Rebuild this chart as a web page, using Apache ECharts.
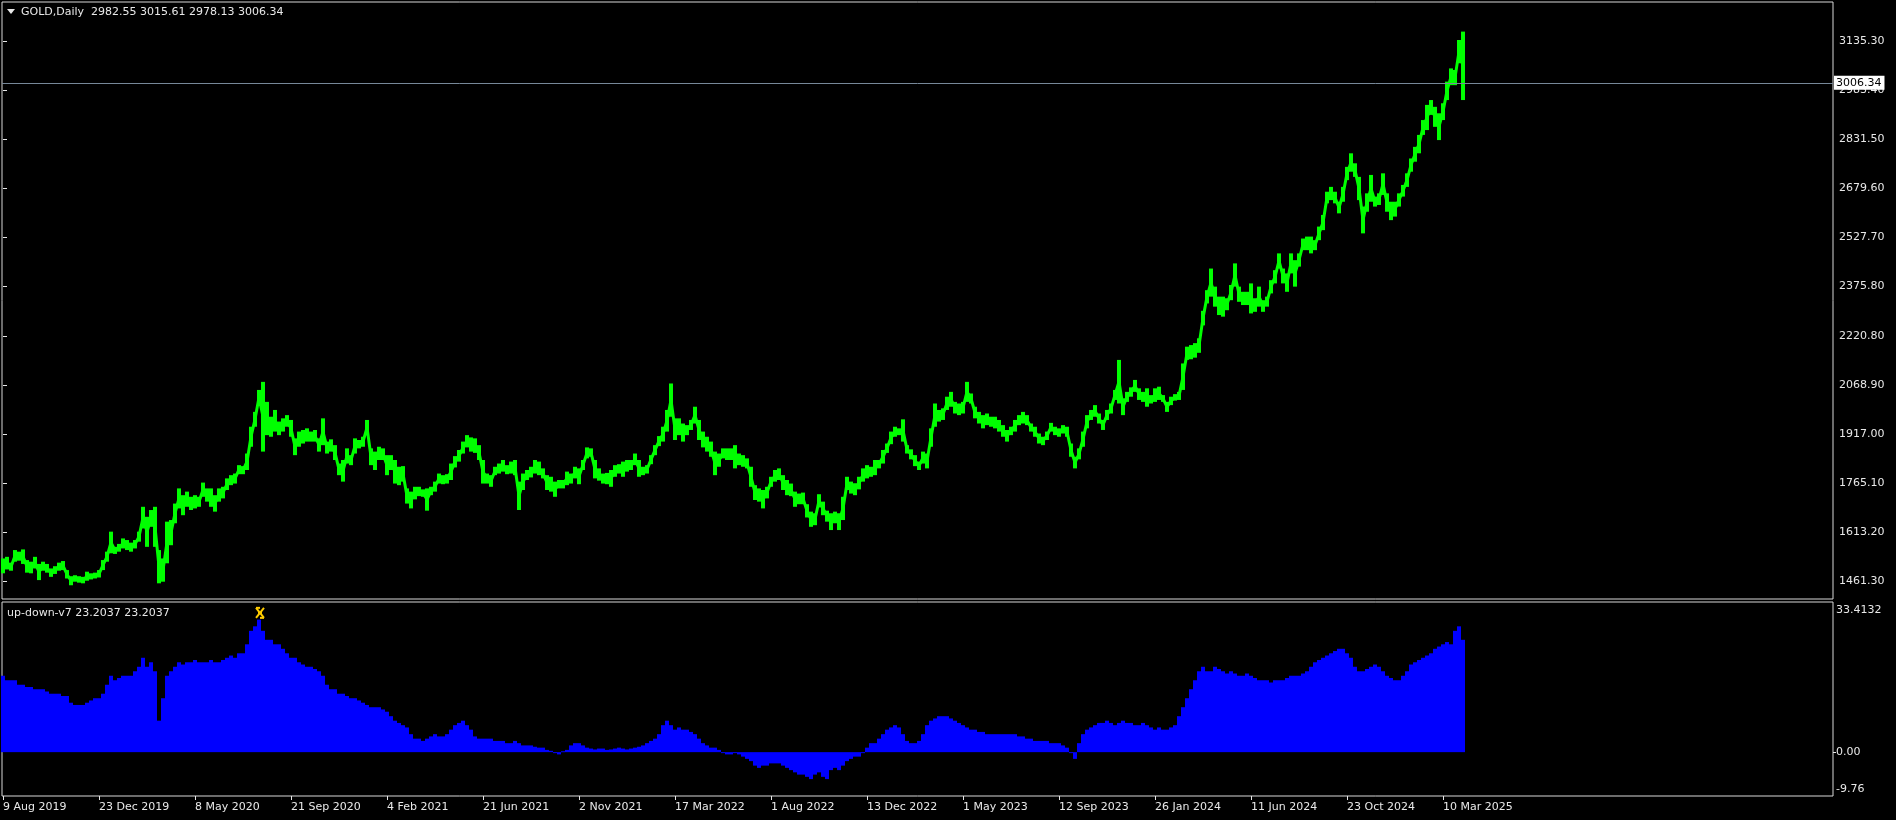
<!DOCTYPE html>
<html><head><meta charset="utf-8">
<script src="https://cdn.jsdelivr.net/npm/echarts@6/dist/echarts.min.js"></script>
<style>html,body{margin:0;padding:0;background:#000;overflow:hidden;}#c{width:1896px;height:820px;}</style>
</head><body><div id="c"></div>
<script>
// ---- data ----
const BAR_STEP = 4; // each sample covers 4 daily bars
const highs = [
1533,1538,1520,1559,1554,1561,1528,1523,1538,1516,1523,1516,1502,1509,1520,1525,1497,1478,1481,1478,
1476,1492,1487,1489,1497,1528,1554,1616,1569,1578,1595,1590,1582,1590,1616,1693,1662,1683,1693,1559,
1533,1647,1652,1703,1750,1729,1740,1724,1729,1724,1768,1750,1750,1729,1750,1755,1781,1791,1796,1822,
1819,1858,1941,1987,2055,2080,2018,1972,1993,1957,1967,1977,1962,1905,1926,1931,1936,1926,1931,1905,
1967,1895,1902,1884,1827,1838,1874,1853,1905,1900,1910,1962,1874,1864,1879,1874,1853,1853,1838,1817,
1819,1750,1740,1755,1755,1747,1750,1755,1771,1796,1791,1794,1827,1850,1869,1895,1915,1908,1905,1884,
1838,1796,1791,1817,1827,1838,1822,1833,1838,1771,1796,1807,1817,1838,1833,1812,1791,1786,1771,1776,
1776,1802,1796,1817,1812,1838,1877,1874,1838,1812,1796,1798,1807,1822,1825,1833,1838,1838,1858,1838,
1817,1822,1853,1884,1912,1941,1993,2075,1967,1967,1951,1946,1962,2003,1962,1926,1910,1895,1864,1858,
1874,1874,1874,1884,1858,1853,1843,1817,1760,1750,1745,1755,1786,1807,1812,1791,1776,1765,1740,1734,
1737,1701,1678,1673,1732,1709,1681,1673,1678,1673,1724,1786,1771,1766,1786,1812,1822,1817,1838,1838,
1869,1889,1926,1941,1936,1964,1884,1871,1853,1833,1864,1858,1936,2013,1993,1998,2034,2049,2018,2013,
2018,2080,2044,2003,1987,1977,1982,1972,1972,1962,1946,1931,1941,1962,1977,1987,1977,1951,1941,1920,
1910,1926,1953,1941,1936,1946,1941,1889,1848,1874,1926,1977,1993,2008,1982,1962,1993,2013,2055,2148,
2029,2049,2063,2086,2060,2049,2060,2039,2060,2065,2039,2018,2034,2042,2049,2137,2189,2194,2200,2215,
2300,2364,2431,2375,2344,2344,2339,2380,2447,2375,2359,2359,2385,2339,2375,2333,2344,2395,2426,2478,
2431,2416,2478,2457,2478,2524,2530,2530,2519,2561,2597,2669,2684,2669,2638,2684,2746,2788,2757,2715,
2623,2664,2721,2654,2664,2726,2664,2638,2638,2664,2690,2726,2772,2808,2845,2891,2938,2953,2932,2912,
2943,3010,3051,3046,3139,3165
];
const lows = [
1487,1499,1495,1523,1526,1516,1489,1487,1502,1466,1495,1489,1476,1485,1495,1497,1471,1450,1461,1458,
1456,1464,1468,1471,1474,1497,1523,1549,1547,1554,1564,1559,1554,1564,1585,1626,1569,1631,1569,1456,
1461,1518,1574,1642,1688,1667,1693,1683,1688,1693,1724,1709,1693,1678,1709,1719,1745,1760,1765,1794,
1794,1807,1879,1941,2008,1864,1915,1910,1926,1915,1926,1941,1910,1853,1879,1889,1895,1895,1895,1864,
1884,1858,1864,1838,1791,1771,1827,1822,1858,1874,1879,1915,1822,1807,1838,1838,1791,1807,1765,1760,
1771,1703,1688,1716,1726,1724,1681,1729,1740,1765,1763,1765,1776,1815,1833,1858,1877,1864,1860,1838,
1765,1765,1755,1791,1796,1802,1794,1796,1791,1683,1745,1776,1784,1796,1791,1781,1745,1740,1724,1750,
1750,1760,1765,1781,1763,1807,1843,1848,1781,1774,1765,1763,1755,1786,1796,1786,1802,1807,1822,1786,
1791,1796,1825,1853,1881,1895,1926,1972,1900,1915,1895,1915,1931,1951,1900,1877,1864,1848,1791,1817,
1843,1838,1838,1812,1822,1817,1812,1755,1714,1709,1688,1719,1755,1771,1776,1745,1729,1726,1693,1701,
1701,1660,1631,1636,1691,1667,1647,1621,1642,1621,1652,1745,1734,1729,1747,1771,1781,1786,1791,1812,
1827,1860,1887,1910,1915,1895,1858,1840,1819,1807,1827,1812,1879,1941,1957,1962,1993,2003,1982,1977,
1982,2018,2013,1967,1951,1936,1946,1941,1936,1926,1910,1895,1915,1926,1946,1951,1946,1926,1910,1889,
1884,1900,1926,1915,1910,1920,1910,1848,1812,1840,1879,1936,1962,1972,1951,1931,1962,1982,2024,2013,
1977,2018,2034,2049,2024,2018,2003,2013,2018,2024,2018,1987,2008,2022,2024,2055,2148,2150,2155,2170,
2255,2323,2344,2313,2287,2282,2302,2333,2375,2328,2318,2318,2292,2297,2313,2297,2313,2354,2385,2431,
2385,2359,2416,2375,2437,2488,2488,2478,2488,2519,2550,2633,2643,2633,2602,2638,2705,2731,2715,2643,
2540,2607,2638,2623,2628,2659,2607,2581,2592,2623,2654,2684,2731,2762,2788,2845,2860,2907,2870,2829,
2891,2953,2999,2999,3067,2953
];
const indValues = [
17,16,16,16,15,15,14.5,14.5,14,14,14,13.5,13,13,13,12.5,12.5,11,10.5,10.5,
10.5,11,11.5,12,12,13,15,17,16,16.5,17,17,17,18,19,21,19,20,18,7,
12,17,18,19,20,19.5,20,20,20.5,20,20,20,20.5,20,20,20.5,21,21.5,21,22,
22,24,27,28,29.5,27,25,25,24,24,23,22,21,21,20,19.5,19,19,18.5,18,
17,15,14,14,13,13,12.5,12,12,11.5,11,10.5,10,10,10,9.5,9,8,7,6.5,
6,5.5,4,3,3,2.5,3,3.5,4,3.5,3.5,4,5,6,6.5,7,6,5,3.5,3,
3,3,3,2.5,2.5,2.5,2,2,2.5,2,1.5,1.5,1.5,1.2,1,1,0.5,0.3,0,-0.5,
0.2,0.5,1.5,2,2,1.5,1,0.8,0.6,0.8,0.8,0.5,0.6,0.8,1,0.8,0.6,0.8,1,1.2,
1.5,2,2.5,3,4,6,7,6,5,5.5,5,5,4.5,4,3,2,1.5,1,1,0.5,
0,-0.5,-0.5,0,-0.5,-1,-1.5,-2,-3,-3.5,-3,-3,-2.5,-2.5,-2.5,-3,-3.5,-4,-4.5,-5,
-5,-5.5,-6,-5,-4.5,-5.5,-6,-4,-3.5,-4,-3,-2,-1.5,-1,-1,0,1,2,2,3,
4,5,5.5,6,5.5,4,2.5,2,2,2.5,4,6,7,7.5,8,8,8,7.5,7,6.5,
6,5.5,5,5,4.5,4.5,4,4,4,4,4,4,4,4,3.5,3.5,3,3,2.5,2.5,
2.5,2.5,2,2,2,1.5,1,0,-1.5,2,4,5,5.5,6,6.5,6.5,7,6.5,6,6.5,
7,6.5,6.5,6,6,6.5,6,5.5,5,5.5,5,5,5.5,6,8,10,12,14,16,18,
19,18,18,19,18.5,18,17.5,18,17.5,17,17,17.5,17,16.5,16,16,16,15.5,16,16,
16,16.5,17,17,17,17.5,18,19,20,20.5,21,21.5,22,22.5,23,23,22,21,19,18,
18,18.5,19,19.5,19,18,17,16.5,16,16,17,18,19.5,20,20.5,21,21.5,22,23,23.5,
24,24.5,24,27,28,25
];
const dateLabels = ['9 Aug 2019','23 Dec 2019','8 May 2020','21 Sep 2020','4 Feb 2021','21 Jun 2021','2 Nov 2021','17 Mar 2022','1 Aug 2022','13 Dec 2022','1 May 2023','12 Sep 2023','26 Jan 2024','11 Jun 2024','23 Oct 2024','10 Mar 2025'];
const BARS_PER_LABEL = 96;
const priceTicks = [1461.30,1613.20,1765.10,1917.00,2068.90,2220.80,2375.80,2527.70,2679.60,2831.50,2983.40,3135.30];
const symbolName = 'GOLD,Daily';
const ohlcLast = ['2982.55','3015.61','2978.13','3006.34'];
const lastClose = 3006.34;
const indName = 'up-down-v7';
const indLast = ['23.2037','23.2037'];
const indMax = 33.4132, indMin = -9.76;
const markerBar = 257, markerValue = 31;

// ---- chart ----
const FONT = 'DejaVu Sans';
const FG = '#e8e8e8';
const chart = echarts.init(document.getElementById('c'), null, {renderer:'canvas'});

const priceData = highs.map((h,i)=>[i*BAR_STEP, lows[i], h]);
const midData = highs.map((h,i)=>[i*BAR_STEP, (h+lows[i])/2]);
const indData = indValues.map((v,i)=>[i*BAR_STEP, v]);
const labelPositions = dateLabels.map((d,j)=>j*BARS_PER_LABEL);

function priceItem(params, api){
  const n = api.value(0), lo = api.value(1), hi = api.value(2);
  const a = api.coord([n-2, hi]), b = api.coord([n+2, lo]);
  return {type:'rect', shape:{x:a[0], y:a[1], width:b[0]-a[0], height:Math.max(1,b[1]-a[1])}, style:{fill:'#00ff00'}};
}
function indItem(params, api){
  const n = api.value(0), v = api.value(1);
  const a = api.coord([n-2, v]), b = api.coord([n+2, 0]);
  const y0 = Math.min(a[1], b[1]), y1 = Math.max(a[1], b[1]);
  return {type:'rect', shape:{x:a[0], y:y0, width:b[0]-a[0], height:Math.max(1,y1-y0)}, style:{fill:'#0000ff'}};
}
function markerItem(params, api){
  const p = api.coord([api.value(0), api.value(1)]);
  const c = '#ffcc00', x = p[0], y = p[1];
  const L = (x1,y1,x2,y2)=>({type:'line', shape:{x1:x+x1,y1:y+y1,x2:x+x2,y2:y+y2}, style:{stroke:c, lineWidth:2}});
  return {type:'group', children:[L(-4,-5,4,5),L(4,-5,-4,5),L(-4,-5,0,-5),L(0,5,4,5),L(-2,0,2,0)]};
}

const axisLabelFont = {fontFamily:FONT, fontSize:11, color:FG};

const option = {
  backgroundColor:'#000',
  animation:false,
  grid:[
    {left:2, top:2, width:1831, height:597, show:true, borderColor:'#d8d8d8', borderWidth:1, backgroundColor:'transparent'},
    {left:2, top:602, width:1831, height:194, show:true, borderColor:'#d8d8d8', borderWidth:1, backgroundColor:'transparent'}
  ],
  xAxis:[
    {type:'value', gridIndex:0, min:-1, max:1830, show:false},
    {type:'value', gridIndex:1, min:-1, max:1830, position:'bottom',
      axisLine:{show:false, onZero:false}, splitLine:{show:false},
      axisTick:{show:true, customValues:labelPositions, length:4, lineStyle:{color:FG}},
      axisLabel:Object.assign({customValues:labelPositions, align:'left', margin:6,
        formatter:v=>dateLabels[Math.round(v/BARS_PER_LABEL)]}, axisLabelFont)}
  ],
  yAxis:[
    {type:'value', gridIndex:0, position:'right', min:1407.4, max:3256.7, scale:true,
      axisLine:{show:false}, splitLine:{show:false},
      axisTick:{show:true, customValues:priceTicks, length:4, lineStyle:{color:FG}},
      axisLabel:Object.assign({customValues:priceTicks, margin:6, formatter:v=>v.toFixed(2)}, axisLabelFont)},
    {type:'value', gridIndex:1, position:'right', min:indMin, max:indMax,
      axisLine:{show:false, onZero:false}, splitLine:{show:false},
      axisTick:{show:true, customValues:[0], length:3, lineStyle:{color:FG}},
      axisLabel:Object.assign({customValues:[indMin,0,indMax], margin:3,
        formatter:v=> v===indMax ? '{t|'+indMax.toFixed(4)+'}' : (v===indMin ? '{b|'+indMin.toFixed(2)+'}' : '{m|0.00}'),
        rich:{
          t:{fontFamily:FONT, fontSize:11, color:FG, padding:[17,0,0,0]},
          b:{fontFamily:FONT, fontSize:11, color:FG, padding:[0,0,14,0]},
          m:{fontFamily:FONT, fontSize:11, color:FG}
        }}, axisLabelFont)}
  ],
  series:[
    {type:'line', name:'mid', xAxisIndex:0, yAxisIndex:0, data:midData, showSymbol:false, symbol:'none',
      lineStyle:{color:'#00ff00', width:3}, silent:true, z:2},
    {type:'custom', name:'price', xAxisIndex:0, yAxisIndex:0, data:priceData, renderItem:priceItem, silent:true, z:2},
    {type:'line', xAxisIndex:0, yAxisIndex:0, data:[[priceData[priceData.length-1][0], lastClose]],
      showSymbol:false, symbol:'none', lineStyle:{opacity:0}, silent:true, z:3,
      markLine:{silent:true, symbol:['none','none'], animation:false,
        lineStyle:{color:'#778899', width:1, type:'solid'},
        label:{show:true, position:'end', distance:1, formatter:()=>lastClose.toFixed(2),
          backgroundColor:'#ffffff', color:'#000', fontFamily:FONT, fontSize:11, padding:[2,3,1,2]},
        data:[{yAxis:lastClose}]}},
    {type:'custom', name:'ind', xAxisIndex:1, yAxisIndex:1, data:indData, renderItem:indItem, silent:true, z:2},
    {type:'custom', name:'marker', xAxisIndex:1, yAxisIndex:1, data:[[markerBar, markerValue]], renderItem:markerItem, silent:true, z:4, clip:false}
  ],
  graphic:[
    {type:'polygon', shape:{points:[[7,9],[15,9],[11,14]]}, style:{fill:FG}, silent:true},
    {type:'text', x:21, y:12, style:{text:symbolName+'  '+ohlcLast.join(' '), fill:FG, font:'11px "DejaVu Sans"', verticalAlign:'middle'}, silent:true},
    {type:'text', x:7, y:613, style:{text:indName+' '+indLast.join(' '), fill:FG, font:'11px "DejaVu Sans"', verticalAlign:'middle'}, silent:true}
  ]
};
chart.setOption(option);
</script></body></html>
